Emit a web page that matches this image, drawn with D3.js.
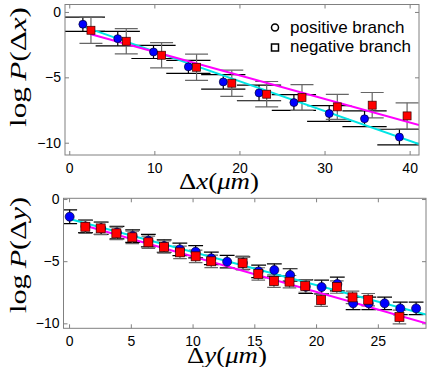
<!doctype html>
<html lang="en">
<head>
<meta charset="UTF-8">
<title>log P</title>
<script src="https://d3js.org/d3.v7.min.js"></script>
<style>
  body { margin: 0; background: #fff; }
  .tick text { font-family: "Liberation Sans", Arial, sans-serif; font-size: 14px; fill: #000; }
  .tick line { stroke: #808080; }
  .lbl { font-family: "Liberation Serif", "Times New Roman", serif; font-size: 24px; fill: #000; }
  .leg { font-family: "Liberation Sans", Arial, sans-serif; font-size: 17px; fill: #000; }
</style>
</head>
<body>
<div id="chart-area"></div>

<script>
// top panel: delta x
const dxPosX = [1.6, 5.7, 9.9, 14.0, 18.1, 22.3, 26.4, 30.55, 34.7, 38.8];
const dxPosY = [-0.94, -2.04, -3.06, -4.2, -5.35, -6.19, -6.93, -7.77, -8.17, -9.57];
const dxPosErr = [0.55, 0.55, 0.5, 0.5, 0.55, 0.6, 0.6, 0.6, 0.6, 0.6];
const dxNegX = [2.55, 6.7, 10.85, 14.96, 19.1, 23.2, 27.35, 31.5, 35.6, 39.7];
const dxNegY = [-1.4, -2.24, -3.31, -4.23, -5.45, -6.29, -6.54, -7.26, -7.13, -7.95];
const dxNegErr = [1.0, 0.97, 0.96, 1.0, 1.0, 0.97, 0.98, 0.95, 0.97, 1.0];
const dxFitPos = [[1.68, -1.12], [41.1, -10.1]];
const dxFitNeg = [[2.55, -1.71], [41.1, -8.65]];

// bottom panel: delta y
const dyPosX = [0.05, 1.33, 2.6, 3.88, 5.15, 6.42, 7.7, 8.97, 10.25, 11.52, 12.8, 14.07,
                15.35, 16.62, 17.9, 19.17, 20.45, 21.72, 23.0, 24.27, 25.55, 26.82, 28.1];
const dyPosY = [-1.42, -2.2, -2.35, -2.7, -2.98, -3.35, -3.78, -4.05, -4.24, -4.77, -5.04, -5.15,
                -5.82, -5.71, -6.11, -7.05, -7.08, -6.84, -8.39, -8.39, -8.39, -8.8, -8.8];
const dyPosErr = [0.55, 0.5, 0.5, 0.5, 0.5, 0.5, 0.5, 0.5, 0.5, 0.5, 0.5, 0.5,
                  0.5, 0.5, 0.5, 0.55, 0.55, 0.55, 0.5, 0.5, 0.5, 0.5, 0.5];
const dyNegX = [1.32, 2.56, 3.83, 5.12, 6.42, 7.69, 8.98, 10.25, 11.51, 14.05,
                15.32, 16.59, 17.85, 19.12, 20.41, 21.68, 22.95, 24.22, 26.75];
const dyNegY = [-2.23, -2.36, -2.76, -3.08, -3.48, -3.86, -4.29, -4.61, -5.01, -5.15,
                -6.03, -6.6, -6.65, -7.0, -8.13, -7.08, -7.91, -8.1, -9.49];
const dyNegErr = [0.53, 0.5, 0.5, 0.5, 0.5, 0.5, 0.5, 0.5, 0.5, 0.55,
                  0.5, 0.5, 0.5, 0.5, 0.5, 0.5, 0.5, 0.5, 0.55];
const dyFitPos = [[0.05, -1.61], [28.9, -9.3]];
const dyFitNeg = [[1.32, -2.15], [28.9, -10.0]];

const xTicksTop = [0, 10, 20, 30, 40];
const xTicksBot = [0, 5, 10, 15, 20, 25];
const yTicks = [0, -5, -10];

const svg = d3.select('#chart-area')
    .append('svg')
    .attr('width', 436)
    .attr('height', 367);

svg.append('rect').attr('width', 436).attr('height', 367).attr('fill', '#fff');

function panel(cfg) {
    const x = d3.scaleLinear().domain(cfg.xDom).range([cfg.left, cfg.right]);
    const y = d3.scaleLinear().domain(cfg.yDom).range([cfg.bottom, cfg.top]);
    const g = svg.append('g');

    const fmt = d => d < 0 ? '\u2212' + Math.abs(d) : d;

    g.append('g').attr('transform', `translate(0,${cfg.bottom})`)
        .call(d3.axisBottom(x).tickValues(cfg.xTicks).tickSizeInner(-4).tickSizeOuter(0).tickPadding(8).tickFormat(fmt));
    g.append('g').attr('transform', `translate(0,${cfg.top})`)
        .call(d3.axisTop(x).tickValues(cfg.xTicks).tickSizeInner(-4).tickSizeOuter(0).tickFormat(''));
    g.append('g').attr('transform', `translate(${cfg.left},0)`)
        .call(d3.axisLeft(y).tickValues(yTicks).tickSizeInner(-4).tickSizeOuter(0).tickPadding(4).tickFormat(fmt));
    g.append('g').attr('transform', `translate(${cfg.right},0)`)
        .call(d3.axisRight(y).tickValues(yTicks).tickSizeInner(-4).tickSizeOuter(0).tickFormat(''));
    g.selectAll('.domain').remove();

    const clipId = 'clip' + cfg.id;
    svg.append('clipPath').attr('id', clipId)
        .append('rect')
        .attr('x', cfg.left).attr('y', cfg.top)
        .attr('width', cfg.right - cfg.left).attr('height', cfg.bottom - cfg.top);
    const p = g.append('g').attr('clip-path', `url(#${clipId})`);

    // error bars with wide caps
    function bars(xs, ys, es, half, color) {
        xs.forEach((xv, i) => {
            const yv = ys[i], e = es[i];
            const bg = p.append('g').attr('stroke', color).attr('stroke-width', 1.2);
            bg.append('line').attr('x1', x(xv)).attr('x2', x(xv)).attr('y1', y(yv + e)).attr('y2', y(yv - e));
            bg.append('line').attr('x1', x(xv - half)).attr('x2', x(xv + half)).attr('y1', y(yv + e)).attr('y2', y(yv + e));
            bg.append('line').attr('x1', x(xv - half)).attr('x2', x(xv + half)).attr('y1', y(yv - e)).attr('y2', y(yv - e));
        });
    }
    bars(cfg.posX, cfg.posY, cfg.posErr, cfg.capPos, '#000');
    bars(cfg.negX, cfg.negY, cfg.negErr, cfg.capNeg, '#666');

    const line = d3.line().x(d => x(d[0])).y(d => y(d[1]));
    p.append('path').attr('d', line(cfg.fitPos)).attr('stroke', '#00e5e5').attr('stroke-width', 2).attr('fill', 'none');
    p.append('path').attr('d', line(cfg.fitNeg)).attr('stroke', '#ff00ff').attr('stroke-width', 2).attr('fill', 'none');

    p.selectAll('circle.pos')
        .data(cfg.posX)
        .enter()
        .append('circle')
        .attr('cx', d => x(d))
        .attr('cy', (d, i) => y(cfg.posY[i]))
        .attr('r', cfg.ms / 2)
        .attr('fill', '#0000ff')
        .attr('stroke', '#000033')
        .attr('stroke-width', 0.7);

    p.selectAll('rect.neg')
        .data(cfg.negX)
        .enter()
        .append('rect')
        .attr('x', d => x(d) - cfg.ms / 2)
        .attr('y', (d, i) => y(cfg.negY[i]) - cfg.ms / 2)
        .attr('width', cfg.ms)
        .attr('height', cfg.ms)
        .attr('fill', '#ff0000')
        .attr('stroke', '#330000')
        .attr('stroke-width', 0.7);

    g.append('rect')
        .attr('x', cfg.left).attr('y', cfg.top)
        .attr('width', cfg.right - cfg.left).attr('height', cfg.bottom - cfg.top)
        .attr('fill', 'none').attr('stroke', '#808080').attr('stroke-width', 1);

    // y label
    const yl = g.append('text').attr('class', 'lbl')
        .attr('transform', `translate(${cfg.ylabX},${cfg.ylabY}) rotate(-90)`)
        .attr('text-anchor', 'middle')
        .attr('textLength', cfg.ylabLen).attr('lengthAdjust', 'spacingAndGlyphs');
    yl.append('tspan').text('log\u2009');
    yl.append('tspan').attr('font-style', 'italic').text('P');
    yl.append('tspan').text('(\u0394');
    yl.append('tspan').attr('font-style', 'italic').text(cfg.v);
    yl.append('tspan').text(')');

    // x label
    const xl = g.append('text').attr('class', 'lbl')
        .attr('x', cfg.xlabX).attr('y', cfg.xlabY)
        .attr('text-anchor', 'middle')
        .attr('textLength', 80).attr('lengthAdjust', 'spacingAndGlyphs');
    xl.append('tspan').text('\u0394');
    xl.append('tspan').attr('font-style', 'italic').text(cfg.v);
    xl.append('tspan').text('(');
    xl.append('tspan').attr('font-style', 'italic').text('\u03bcm');
    xl.append('tspan').text(')');
}

panel({
    id: 'a', left: 65, right: 419, top: 4.5, bottom: 155,
    xDom: [-0.5, 41.1], yDom: [-10.94, 0.57], xTicks: xTicksTop,
    posX: dxPosX, posY: dxPosY, posErr: dxPosErr,
    negX: dxNegX, negY: dxNegY, negErr: dxNegErr,
    fitPos: dxFitPos, fitNeg: dxFitNeg,
    capPos: 2.6, capNeg: 1.35, ms: 8, v: 'x',
    ylabX: 26, ylabY: 67, ylabLen: 120, xlabX: 219, xlabY: 189
});

panel({
    id: 'b', left: 63.5, right: 426, top: 198.3, bottom: 328.3,
    xDom: [-0.45, 28.9], yDom: [-10.4, 0.06], xTicks: xTicksBot,
    posX: dyPosX, posY: dyPosY, posErr: dyPosErr,
    negX: dyNegX, negY: dyNegY, negErr: dyNegErr,
    fitPos: dyFitPos, fitNeg: dyFitNeg,
    capPos: 0.6, capNeg: 0.55, ms: 9, v: 'y',
    ylabX: 26, ylabY: 255, ylabLen: 116, xlabX: 227, xlabY: 363
});

// legend
const leg = svg.append('g');
leg.append('circle').attr('cx', 275).attr('cy', 27.5).attr('r', 3.5)
    .attr('fill', 'none').attr('stroke', '#000').attr('stroke-width', 1.5);
leg.append('rect').attr('x', 271.5).attr('y', 44).attr('width', 7).attr('height', 7)
    .attr('fill', 'none').attr('stroke', '#000').attr('stroke-width', 1.5);
leg.append('text').attr('class', 'leg').attr('x', 290).attr('y', 33).text('positive branch');
leg.append('text').attr('class', 'leg').attr('x', 290).attr('y', 52).text('negative branch');
</script>
</body>
</html>
